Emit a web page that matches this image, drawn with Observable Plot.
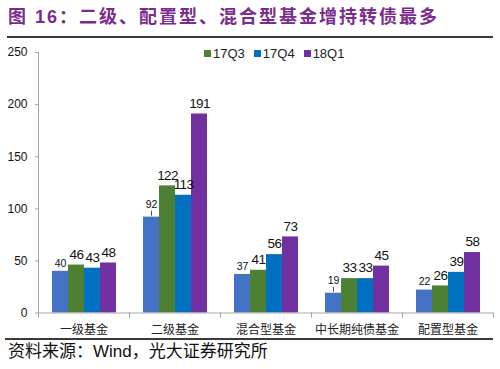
<!DOCTYPE html>
<html>
<head>
<meta charset="utf-8">
<script src="https://cdn.jsdelivr.net/npm/d3@7"></script>
<script src="https://cdn.jsdelivr.net/npm/@observablehq/plot@0.6"></script>
<style>
  html, body { margin: 0; padding: 0; background: #fff; }
  #wrap { position: relative; width: 500px; height: 369px; background: #fff; overflow: hidden; font-family: "Liberation Sans", Arial, "Noto Sans CJK SC", sans-serif; }
  #title { position: absolute; left: 8px; top: 5px; line-height: 20px; font-size: 18px; font-weight: bold; color: #7A2C8E; letter-spacing: 2px; white-space: nowrap; font-family: "Liberation Sans", Arial, "Noto Sans CJK SC", sans-serif; }
  #title .zh { font-family: "Noto Sans CJK SC", sans-serif; }
  .hline { position: absolute; height: 2px; background: #3a3a3a; }
  #chart { position: absolute; left: 0; top: 40px; }
  #chart svg g.vlabel text { letter-spacing: -0.6px; }
  #legend { position: absolute; left: 204px; top: 46px; font-size: 13px; color: #222; white-space: nowrap; line-height: 16px; }
  #legend span.item { margin-right: 9px; }
  #legend span.sw { display: inline-block; width: 7px; height: 7px; margin-right: 2px; vertical-align: 1px; }
  #source { position: absolute; left: 8px; top: 341px; font-size: 17px; line-height: 22px; color: #111; white-space: nowrap; font-family: "Liberation Sans", Arial, "Noto Sans CJK SC", sans-serif; }
</style>
</head>
<body>
<div id="wrap">
  <div id="title">图 16<span class="zh">：二级、配置型、混合型基金增持转债最多</span></div>
  <div class="hline" style="left:7px; top:36px; width:486px;"></div>
  <div id="chart"></div>
  <div id="legend"></div>
  <div class="hline" style="left:5px; top:338px; width:488px;"></div>
  <div id="source">资料来源：Wind，光大证券研究所</div>
</div>
<script>
// ---- data ----
const categories = ["一级基金", "二级基金", "混合型基金", "中长期纯债基金", "配置型基金"];
const series = ["17Q2", "17Q3", "17Q4", "18Q1"];
const legendSeries = ["17Q3", "17Q4", "18Q1"];
const values17Q2 = [40, 92, 37, 19, 22];
const values17Q3 = [46, 122, 41, 33, 26];
const values17Q4 = [43, 113, 56, 33, 39];
const values18Q1 = [48, 191, 73, 45, 58];
const yTicks = [0, 50, 100, 150, 200, 250];
const leaderCategories = ["二级基金", "中长期纯债基金"];

const colors = ["#4472C4", "#4E8034", "#0070C0", "#7030A0"];

const seriesValues = [values17Q2, values17Q3, values17Q4, values18Q1];
const rows = [];
series.forEach((s, si) => {
  categories.forEach((c, ci) => {
    rows.push({category: c, series: s, value: seriesValues[si][ci]});
  });
});
const firstRows = rows.filter(d => d.series === series[0]);
const otherRows = rows.filter(d => d.series !== series[0]);
const leaderRows = firstRows.filter(d => leaderCategories.includes(d.category));
const plainFirstRows = firstRows.filter(d => !leaderCategories.includes(d.category));

const W = 500, H = 298, mt = 12, mb = 25.5, ml = 38, mr = 7;
const plotH = H - mt - mb;
const axisGray = "#a6a6a6";

const chart = Plot.plot({
  width: W,
  height: H,
  marginTop: mt,
  marginBottom: mb,
  marginLeft: ml,
  marginRight: mr,
  style: {fontFamily: "'Liberation Sans', Arial, sans-serif", fontSize: "12px", background: "transparent", color: "#111"},
  fx: {domain: categories, paddingInner: 0, paddingOuter: 0, axis: null},
  x: {domain: series, paddingInner: 0, paddingOuter: 0.76, axis: null},
  y: {domain: [0, 250], axis: null},
  color: {domain: series, range: colors},
  marks: [
    Plot.barY(rows, {fx: "category", x: "series", y: "value", fill: "series"}),
    Plot.ruleY([0], {stroke: axisGray, strokeWidth: 1}),
    Plot.frame({anchor: "left", facet: "super", stroke: axisGray, strokeWidth: 1}),
    Plot.frame({anchor: "left", stroke: axisGray, insetTop: plotH, insetBottom: -4}),
    Plot.frame({anchor: "right", stroke: axisGray, insetTop: plotH, insetBottom: -4}),
    Plot.axisY({ticks: yTicks, tickSize: 3, tickPadding: 8, stroke: axisGray, fontSize: 12, label: null, fill: "#111"}),
    Plot.axisFx({anchor: "bottom", tickSize: 0, tickPadding: 12, fontSize: 12, label: null, fontFamily: "'Noto Sans CJK SC', sans-serif", fill: "#222"}),
    Plot.text(otherRows, {fx: "category", x: "series", y: "value", text: d => String(d.value), dy: -10.5, fontSize: 13.5, fill: "#111", className: "vlabel"}),
    Plot.text(plainFirstRows, {fx: "category", x: "series", y: "value", text: d => String(d.value), dy: -8, fontSize: 10.5, fill: "#111"}),
    Plot.text(leaderRows, {fx: "category", x: "series", y: "value", text: d => String(d.value), dy: -12.5, fontSize: 10.5, fill: "#111"}),
    Plot.ruleX(leaderRows, {fx: "category", x: "series", y1: "value", y2: "value", insetTop: -6, insetBottom: 1, stroke: "#222", strokeWidth: 0.8})
  ]
});
document.getElementById("chart").appendChild(chart);

// legend (HTML)
const legend = document.getElementById("legend");
legendSeries.forEach(s => {
  const item = document.createElement("span");
  item.className = "item";
  const sw = document.createElement("span");
  sw.className = "sw";
  sw.style.background = colors[series.indexOf(s)];
  item.appendChild(sw);
  item.appendChild(document.createTextNode(s));
  legend.appendChild(item);
});
</script>
</body>
</html>
